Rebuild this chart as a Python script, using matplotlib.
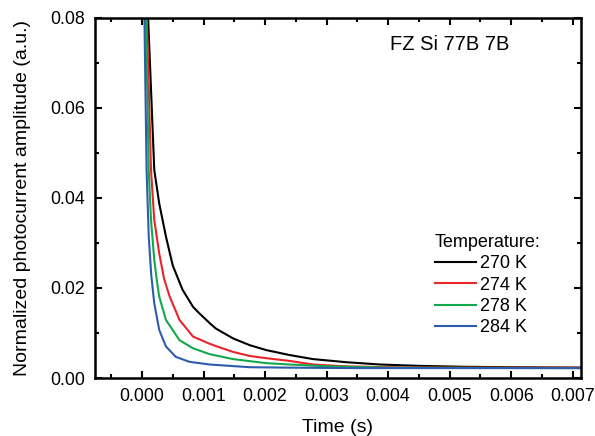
import matplotlib.pyplot as plt
import matplotlib.ticker as mticker

plt.rcParams['font.family'] = ['Liberation Sans', 'DejaVu Sans']

# values (time in s, normalized amplitude)
t_270 = [0.0, 0.0001, 0.0002, 0.00028, 0.00039, 0.0005, 0.00066, 0.00083, 0.00093, 0.0011,
         0.0012, 0.00148, 0.00175, 0.00202, 0.0024, 0.00278, 0.00333, 0.00387, 0.0045,
         0.0052, 0.006, 0.0072]
v_270 = [1.0, 0.080, 0.0462, 0.0388, 0.0314, 0.0250, 0.0196, 0.0158, 0.0144, 0.0122,
         0.0110, 0.0088, 0.0073, 0.0062, 0.0051, 0.0042, 0.0035, 0.0030, 0.0027,
         0.0025, 0.0024, 0.0023]

t_274 = [0.0, 0.00008, 0.000147, 0.0002, 0.00028, 0.00036, 0.00045, 0.00061, 0.00083,
         0.0011, 0.0012, 0.00148, 0.00175, 0.00202, 0.0024, 0.00278, 0.0033, 0.004,
         0.005, 0.0072]
v_274 = [1.0, 0.080, 0.0462, 0.0351, 0.0277, 0.0220, 0.0181, 0.0129, 0.0092,
         0.0076, 0.0071, 0.0058, 0.0049, 0.0044, 0.0038, 0.0030, 0.0026, 0.0024,
         0.0023, 0.0023]

t_278 = [0.0, 0.000065, 0.00011, 0.000147, 0.0002, 0.00024, 0.00028, 0.00039, 0.00061,
         0.00083, 0.0011, 0.00148, 0.00202, 0.0024, 0.003, 0.004, 0.0072]
v_278 = [1.0, 0.080, 0.0462, 0.0351, 0.0262, 0.0218, 0.0181, 0.0129, 0.0084,
         0.0066, 0.0053, 0.0042, 0.0033, 0.0030, 0.0026, 0.0023, 0.0022]

t_284 = [0.0, 0.00004, 0.000075, 0.00011, 0.00015, 0.0002, 0.00028, 0.00039, 0.00055,
         0.00077, 0.0011, 0.00175, 0.0024, 0.0035, 0.0072]
v_284 = [1.0, 0.080, 0.0462, 0.0314, 0.0230, 0.0166, 0.0107, 0.0070, 0.0047,
         0.0036, 0.0030, 0.0024, 0.0023, 0.0022, 0.0022]

labels = ['270 K', '274 K', '278 K', '284 K']
colors = ['black', '#e8262a', '#13a84b', '#2d5cad']

fig = plt.figure(figsize=(5.95, 4.36), dpi=100)
ax = fig.add_axes([0.160, 0.133, 0.816, 0.826])

for t, v, lab, c in zip([t_270, t_274, t_278, t_284], [v_270, v_274, v_278, v_284], labels, colors):
    ax.plot(t, v, color=c, lw=1.5, label=lab)

ax.set_xlim(-0.00076, 0.00713)
ax.set_ylim(0, 0.08)
ax.xaxis.set_major_locator(mticker.MultipleLocator(0.001))
ax.xaxis.set_minor_locator(mticker.MultipleLocator(0.0005))
ax.yaxis.set_major_locator(mticker.MultipleLocator(0.02))
ax.yaxis.set_minor_locator(mticker.MultipleLocator(0.01))
ax.xaxis.set_major_formatter(mticker.FormatStrFormatter('%.3f'))
ax.yaxis.set_major_formatter(mticker.FormatStrFormatter('%.2f'))

ax.tick_params(which='both', direction='in', top=True, right=True, width=1.5, labelsize=12.8)
ax.tick_params(which='major', length=5, pad=7)
ax.tick_params(which='minor', length=3)
for s in ax.spines.values():
    s.set_linewidth(1.8)

ax.set_xlabel('Time (s)', fontsize=14, labelpad=10)
ax.set_ylabel('Normalized photocurrent amplitude (a.u.)', fontsize=14, labelpad=14)

ax.text(0.607, 0.925, 'FZ Si 77B 7B', transform=ax.transAxes, fontsize=14.5, va='center')

leg = ax.legend(title='Temperature:', frameon=False, fontsize=13, title_fontsize=13,
                loc='upper left', bbox_to_anchor=(0.70, 0.40), handlelength=2.25,
                handletextpad=0.22, labelspacing=0.24, alignment='left', borderpad=0,
                borderaxespad=0)

fig.savefig('out.png', dpi=100)
